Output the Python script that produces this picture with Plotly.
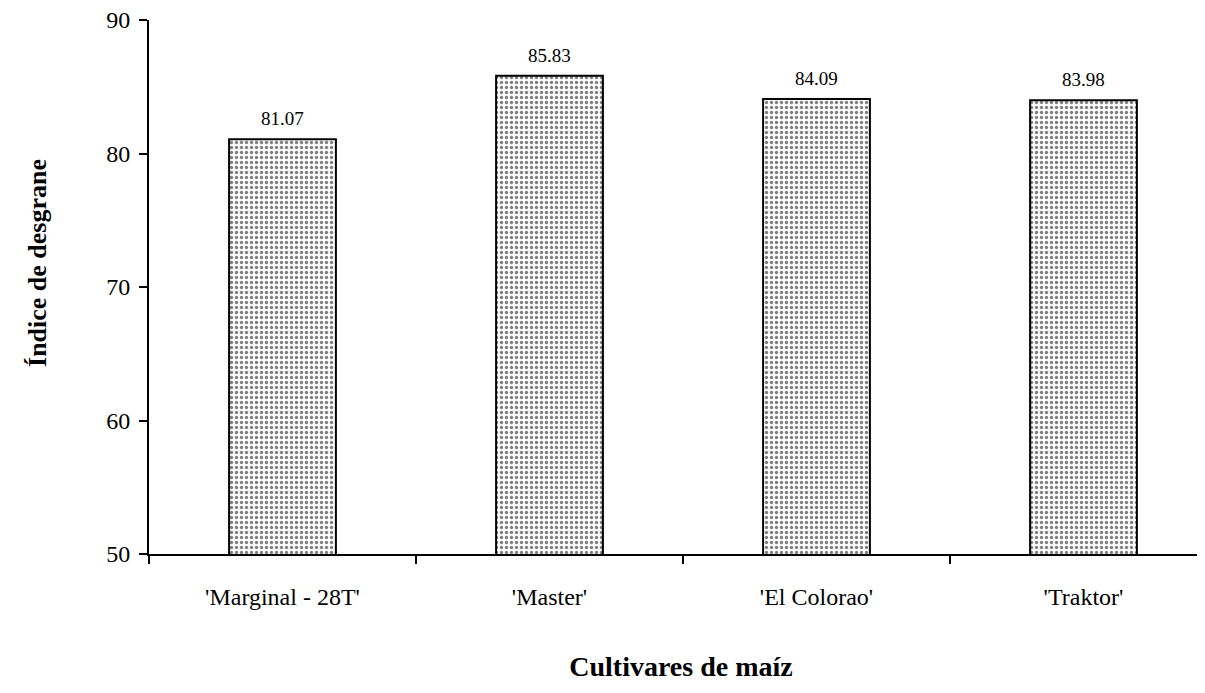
import plotly.graph_objects as go

categories = ["'Marginal - 28T'", "'Master'", "'El Colorao'", "'Traktor'"]
values = [81.07, 85.83, 84.09, 83.98]
value_labels = ["81.07", "85.83", "84.09", "83.98"]
y_ticks = [50, 60, 70, 80, 90]

serif = "Liberation Serif, Times New Roman, serif"

fig = go.Figure()
fig.add_trace(go.Bar(
    x=categories,
    y=values,
    width=0.4,
    marker=dict(
        color="white",
        line=dict(color="black", width=2),
        pattern=dict(shape=".", fgcolor="black", bgcolor="white", size=5, solidity=0.35),
    ),
    showlegend=False,
))

for c, v, t in zip(categories, values, value_labels):
    fig.add_annotation(x=c, y=v, text=t, showarrow=False, yanchor="bottom",
                       yshift=8, font=dict(family=serif, size=19, color="black"))

# y-axis title, placed as in the reference (slightly above the axis centre)
fig.add_annotation(x=0, y=0.545, xref="paper", yref="paper", xshift=-111,
                   text="<b>Índice de desgrane</b>", textangle=-90, showarrow=False,
                   xanchor="center", yanchor="middle",
                   font=dict(family=serif, size=26, color="black"))

fig.update_layout(
    width=1205, height=693,
    margin=dict(l=141, r=0, t=12, b=147),
    paper_bgcolor="white", plot_bgcolor="white",
    font=dict(family=serif, color="black"),
    bargap=0.6,
)
fig.update_xaxes(
    range=[-0.5, 3.485],
    tickson="boundaries",
    ticks="outside", ticklen=8, tickwidth=2, tickcolor="black",
    showline=True, linecolor="black", linewidth=2,
    showgrid=False, zeroline=False,
    tickfont=dict(family=serif, size=24, color="black"),
    ticklabelstandoff=20,
    title=dict(text="<b>Cultivares de maíz</b>", font=dict(family=serif, size=28, color="black"), standoff=48),
)
fig.update_yaxes(
    range=[50, 90],
    tickvals=y_ticks,
    ticks="outside", ticklen=8, tickwidth=2, tickcolor="black",
    showline=True, linecolor="black", linewidth=2,
    showgrid=False, zeroline=False,
    tickfont=dict(family=serif, size=24, color="black"),
    ticklabelstandoff=4,
    ticklabeloverflow="allow",
)

fig.write_html("out.html")
